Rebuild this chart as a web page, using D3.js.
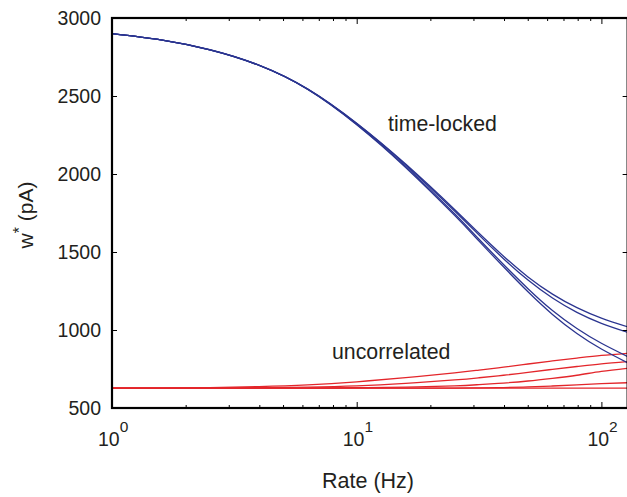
<!DOCTYPE html>
<html><head><meta charset="utf-8">
<script src="https://cdn.jsdelivr.net/npm/d3@7"></script>
<style>
html,body{margin:0;padding:0;background:#fff;}
svg{display:block;font-family:"Liberation Sans",Arial,Helvetica,sans-serif;}
</style></head>
<body><svg id="c" width="627" height="497"></svg>
<script>
// Rates (Hz) at which curves were read
const rates = [1, 1.585, 2.512, 3.981, 6.31, 10, 15.85, 25.12, 31.62, 39.81, 50.12, 63.1, 79.43, 100, 128];
// time-locked (blue) curves, w* (pA)
const timeLockedA = [2900, 2860, 2797, 2698, 2545, 2326, 2064, 1773, 1620, 1473, 1340, 1230, 1143, 1076, 1020];
const timeLockedB = [2900, 2860, 2796, 2698, 2544, 2323, 2058, 1763, 1608, 1457, 1320, 1205, 1113, 1043, 985];
const timeLockedC = [2900, 2860, 2796, 2697, 2543, 2319, 2049, 1745, 1582, 1420, 1265, 1125, 1010, 915, 830];
const timeLockedD = [2900, 2860, 2796, 2697, 2542, 2316, 2042, 1735, 1570, 1405, 1245, 1100, 978, 878, 790];
// uncorrelated (red) curves
const uncorrA = [627, 628, 631, 637, 648, 668, 695, 725, 743, 762, 782, 802, 820, 837, 851];
const uncorrB = [627, 627, 628, 630, 634, 642, 658, 680, 694, 710, 728, 748, 766, 783, 797];
const uncorrC = [627, 627, 627, 627, 628, 630, 634, 642, 650, 660, 673, 690, 710, 735, 755];
const uncorrD = [627, 627, 627, 627, 627, 627, 627, 628, 629, 631, 635, 641, 648, 656, 662];
const uncorrE = [627, 627, 627, 627, 627, 627, 627, 627, 627, 627, 627, 627, 627, 627, 627];
const yTicks = [500, 1000, 1500, 2000, 2500, 3000];
const xMajor = [1, 10, 100];
const xMinor = [2,3,4,5,6,7,8,9,20,30,40,50,60,70,80,90];
const xTickExp = ["0", "1", "2"];

const svg = d3.select("#c");
const L = 112, T = 18, B = 408, decade = 244.7;
const xMax = 128;
const R = L + Math.log10(xMax) * decade;
const x = d3.scaleLog().domain([1, xMax]).range([L, R]);
const y = d3.scaleLinear().domain([500, 3000]).range([B, T]);

svg.append("clipPath").attr("id","clip").append("rect")
  .attr("x", L).attr("y", T).attr("width", R - L).attr("height", B - T);

const line = d3.line().x((d,i)=>x(rates[i])).y(d=>y(d)).curve(d3.curveNatural);
const g = svg.append("g").attr("clip-path","url(#clip)");
const blue = "#2b3590", red = "#e3262b";
[uncorrA, uncorrB, uncorrC, uncorrD, uncorrE].forEach(s=>{
  g.append("path").attr("d", line(s)).attr("fill","none").attr("stroke",red).attr("stroke-width",1.3);
});
[timeLockedA, timeLockedB, timeLockedC, timeLockedD].forEach(s=>{
  g.append("path").attr("d", line(s)).attr("fill","none").attr("stroke",blue).attr("stroke-width",1.3);
});

// axes (box with inward ticks)
const yAxisL = d3.axisLeft(y).tickValues(yTicks).tickSizeInner(-5).tickSizeOuter(0).tickFormat("");
const yAxisR = d3.axisRight(y).tickValues(yTicks).tickSizeInner(-5).tickSizeOuter(0).tickFormat("");
const xAxisB = d3.axisBottom(x).tickValues(xMajor).tickSizeInner(-6).tickSizeOuter(0).tickFormat("");
const xAxisT = d3.axisTop(x).tickValues(xMajor).tickSizeInner(-6).tickSizeOuter(0).tickFormat("");
const xAxisBm = d3.axisBottom(x).tickValues(xMinor).tickSizeInner(-3).tickSizeOuter(0).tickFormat("");
const xAxisTm = d3.axisTop(x).tickValues(xMinor).tickSizeInner(-3).tickSizeOuter(0).tickFormat("");
function style(sel){ sel.selectAll(".domain").remove(); sel.selectAll("line").attr("stroke","#000").attr("stroke-width",1); }
svg.append("g").attr("transform",`translate(${L},0)`).call(yAxisL).call(style);
svg.append("g").attr("transform",`translate(${R},0)`).call(yAxisR).call(style);
svg.append("g").attr("transform",`translate(0,${B})`).call(xAxisB).call(style);
svg.append("g").attr("transform",`translate(0,${T})`).call(xAxisT).call(style);
svg.append("g").attr("transform",`translate(0,${B})`).call(xAxisBm).call(style);
svg.append("g").attr("transform",`translate(0,${T})`).call(xAxisTm).call(style);
svg.append("rect").attr("x",L).attr("y",T).attr("width",R-L).attr("height",B-T)
  .attr("fill","none").attr("stroke","#000").attr("stroke-width",2.2);

// tick labels
const fs = 19.5;
const txt = "#231f20";
svg.append("g").selectAll("text").data(yTicks).join("text")
  .attr("x", L - 11).attr("y", d=>y(d)).attr("dy","0.36em")
  .attr("text-anchor","end").attr("font-size",fs).attr("fill",txt).text(d=>d);
const xl = svg.append("g").selectAll("text").data(xMajor).join("text")
  .attr("x", d=>x(d) - 14).attr("y", 446).attr("font-size",fs).attr("fill",txt);
xl.append("tspan").text("10");
xl.append("tspan").attr("dy",-14).attr("font-size",15.5).text((d,i)=>xTickExp[i]);

// axis titles
svg.append("text").attr("x",368).attr("y",488).attr("text-anchor","middle")
  .attr("font-size",21.5).attr("fill",txt).text("Rate (Hz)");
const yt = svg.append("text").attr("transform","translate(33,215) rotate(-90)")
  .attr("text-anchor","middle").attr("font-size",21).attr("fill",txt);
yt.append("tspan").text("w");
yt.append("tspan").attr("dy",-8).attr("font-size",16).text("*");
yt.append("tspan").attr("dy",8).text(" (pA)");

// annotations
svg.append("text").attr("x",388).attr("y",131).attr("font-size",21.3).attr("fill",txt).text("time-locked");
svg.append("text").attr("x",332).attr("y",359).attr("font-size",21.3).attr("fill",txt).text("uncorrelated");
</script></body></html>
